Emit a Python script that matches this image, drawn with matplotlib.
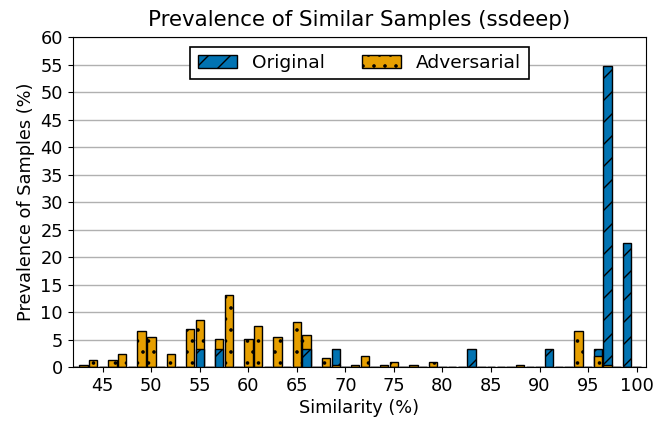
import matplotlib
matplotlib.use("Agg")
import matplotlib.pyplot as plt
import numpy as np

# Similarity values (integer %) and prevalence (%)
orig_x = [55, 57, 66, 69, 83, 91, 96, 97, 99]
orig_y = [3.23, 3.23, 3.23, 3.23, 3.23, 3.23, 3.23, 54.8, 22.6]

adv_x = [43, 44, 46, 47, 49, 50, 52, 54, 55, 57, 58, 60, 61, 63, 65, 66,
         68, 69, 71, 72, 74, 75, 77, 79, 88, 94, 96, 97]
adv_y = [0.4, 1.3, 1.3, 2.4, 6.6, 5.45, 2.4, 6.9, 8.5, 5.1, 13.1, 5.1, 7.4,
         5.45, 8.2, 5.8, 1.6, 0.4, 0.4, 1.95, 0.4, 0.85, 0.4, 0.85, 0.4,
         6.6, 1.95, 0.4]

xticks = list(range(45, 101, 5))
yticks = list(range(0, 61, 5))

BLUE = "#0173B2"
ORANGE = "#E69F00"

DPI = 66.7
S = 100.0 / DPI  # scale so sizes match a 100-dpi layout

plt.rcParams['hatch.linewidth'] = 1.0 * S

fig = plt.figure(figsize=(667 / DPI, 423 / DPI), dpi=DPI)
ax = fig.add_axes([0.109, 0.132, 0.860, 0.780])

# full integer grid so zero-valued bins show as edge lines on the baseline
grid = np.arange(42, 101)
o_full = np.zeros(len(grid))
a_full = np.zeros(len(grid))
for x, y in zip(orig_x, orig_y):
    o_full[x - 42] = y
for x, y in zip(adv_x, adv_y):
    a_full[x - 42] = y

width = 0.87
ob = ax.bar(grid, o_full, width=width, color=BLUE, edgecolor="black",
            linewidth=1.0 * S, hatch="/", label="Original")
ab = ax.bar(grid, a_full, width=width, color=ORANGE, edgecolor="black",
            linewidth=1.0 * S, hatch=".", label="Adversarial")
# shorter bar in front
for po, pa, vo, va in zip(ob.patches, ab.patches, o_full, a_full):
    if vo <= va:
        po.set_zorder(3); pa.set_zorder(2)
    else:
        po.set_zorder(2); pa.set_zorder(3)

ax.set_xlim(41.9, 101.0)
ax.set_ylim(0, 60)
ax.set_xticks(xticks)
ax.set_yticks(yticks)
ax.tick_params(labelsize=12.8 * S, width=0.8 * S, length=3.5 * S, pad=3.5 * S)
for sp in ax.spines.values():
    sp.set_linewidth(0.8 * S)
ax.yaxis.grid(True, color="#b0b0b0", linewidth=1.0 * S)
ax.set_axisbelow(True)

ax.set_title("Prevalence of Similar Samples (ssdeep)", fontsize=15.4 * S,
             pad=8 * S)
ax.set_xlabel("Similarity (%)", fontsize=12.8 * S, labelpad=3 * S)
ax.set_ylabel("Prevalence of Samples (%)", fontsize=12.8 * S, labelpad=4 * S)

leg = ax.legend(loc="upper center", ncol=2, fontsize=13.4 * S, fancybox=False,
                edgecolor="black", framealpha=1.0, handlelength=2.1,
                columnspacing=2.0, borderaxespad=0.5)
leg.get_frame().set_linewidth(1.2 * S)

fig.savefig("out.png", dpi=DPI)
